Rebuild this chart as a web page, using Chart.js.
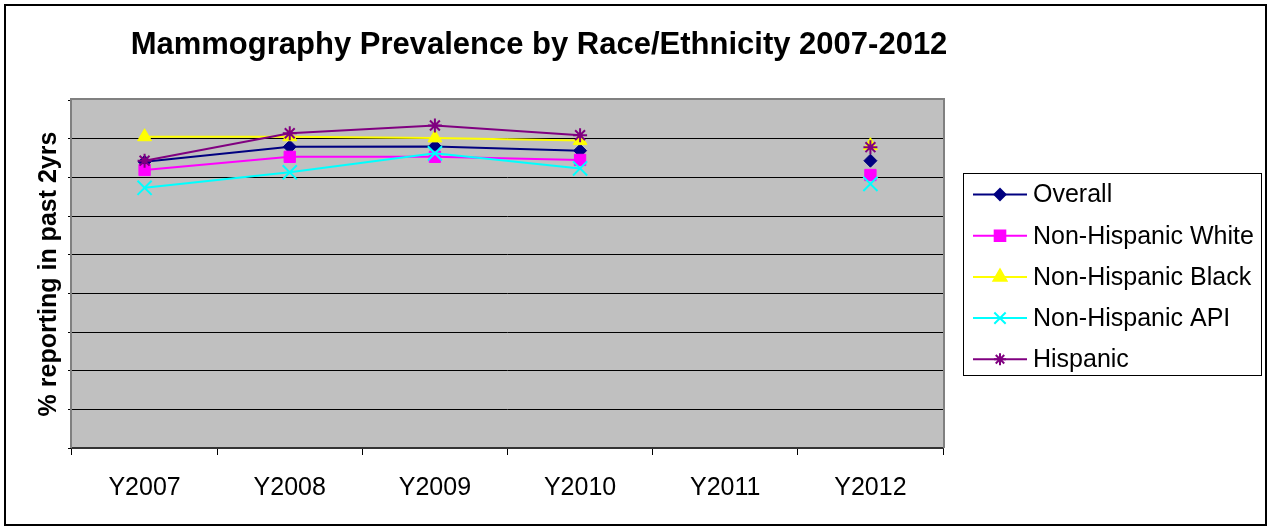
<!DOCTYPE html>
<html>
<head>
<meta charset="utf-8">
<script src="https://cdn.jsdelivr.net/npm/chart.js@4"></script>
<style>
  html, body { margin: 0; padding: 0; background: #fff; }
  #wrap { width: 1270px; height: 527px; }
</style>
</head>
<body>
<div id="wrap"><canvas id="mammoChart" width="1270" height="527"></canvas></div>
<script>
// Survey years (2011 has no estimate)
const years = ['Y2007', 'Y2008', 'Y2009', 'Y2010', 'Y2011', 'Y2012'];

// % of women reporting a mammogram in the past 2 years
const overall = [74.0, 77.9, 78.0, 76.9, null, 74.3];
const nhWhite = [71.9, 75.3, 75.3, 74.5, null, 70.6];
const nhBlack = [80.5, 80.5, 80.2, 79.5, null, 78.2];
const nhApi = [67.3, 71.3, 76.2, 72.3, null, 68.3];
const hispanic = [74.3, 81.4, 83.4, 80.9, null, 77.8];

const yMin = 0;
const yMax = 90;
const yStep = 10;

const FONT = '"Liberation Sans", Arial, sans-serif';

function series(label, data, color, style, radius, width, order) {
    return {
        label: label,
        data: data,
        borderColor: color,
        backgroundColor: color,
        borderWidth: 2,
        pointStyle: style,
        pointRadius: radius,
        pointBorderWidth: width,
        pointBackgroundColor: color,
        pointBorderColor: color,
        spanGaps: false,
        tension: 0,
        order: order
    };
}

// Gray plot background plus the outer frame, title and legend box
const excelLook = {
    id: 'excelLook',
    beforeDraw(chart) {
        const {ctx, chartArea: a} = chart;
        ctx.save();
        ctx.fillStyle = '#C0C0C0';
        ctx.fillRect(a.left, a.top, a.right - a.left, a.bottom - a.top);
        ctx.restore();
    },
    beforeDatasetsDraw(chart) {
        const {ctx, chartArea: a} = chart;
        ctx.save();
        ctx.strokeStyle = '#808080';
        ctx.lineWidth = 2;
        ctx.beginPath();
        ctx.moveTo(a.left - 1, a.bottom);
        ctx.lineTo(a.left - 1, a.top - 1);
        ctx.lineTo(a.right + 1, a.top - 1);
        ctx.lineTo(a.right + 1, a.bottom);
        ctx.stroke();
        ctx.restore();
    },
    afterDraw(chart) {
        const ctx = chart.ctx;
        ctx.save();
        // outer frame
        ctx.strokeStyle = '#000';
        ctx.lineWidth = 2;
        ctx.strokeRect(5, 5, 1261, 520);

        // title
        ctx.fillStyle = '#000';
        ctx.font = 'bold 31px ' + FONT;
        ctx.textAlign = 'center';
        ctx.textBaseline = 'middle';
        ctx.fillText('Mammography Prevalence by Race/Ethnicity 2007-2012', 539, 45);

        // legend
        ctx.lineWidth = 1;
        ctx.strokeStyle = '#000';
        ctx.strokeRect(963.5, 173.5, 298, 202);
        const legendRadius = {rectRot: 5.5, rect: 7.5, triangle: 7.5, crossRot: 8, star: 6};
        chart.data.datasets.forEach((ds, i) => {
            const y = 194.5 + i * 41.2;
            ctx.strokeStyle = ds.borderColor;
            ctx.fillStyle = ds.backgroundColor;
            ctx.lineWidth = 2;
            ctx.beginPath();
            ctx.moveTo(973, y);
            ctx.lineTo(1027, y);
            ctx.stroke();
            Chart.helpers.drawPoint(ctx, {
                pointStyle: ds.pointStyle,
                radius: legendRadius[ds.pointStyle],
                borderWidth: ds.pointBorderWidth,
                rotation: 0
            }, 1000, y);
            ctx.fillStyle = '#000';
            ctx.font = '25px ' + FONT;
            ctx.textAlign = 'left';
            ctx.textBaseline = 'middle';
            ctx.fillText(ds.label, 1033, y + 1);
        });
        ctx.restore();
    }
};

const ctx = document.getElementById('mammoChart').getContext('2d');
const mammoChart = new Chart(ctx, {
    type: 'line',
    data: {
        labels: years,
        datasets: [
            series('Overall', overall, '#000080', 'rectRot', 6.5, 1, 4),
            series('Non-Hispanic White', nhWhite, '#FF00FF', 'rect', 8, 1, 3),
            series('Non-Hispanic Black', nhBlack, '#FFFF00', 'triangle', 8, 1, 2),
            series('Non-Hispanic API', nhApi, '#00FFFF', 'crossRot', 10, 2, 1),
            series('Hispanic', hispanic, '#800080', 'star', 7, 2, 0)
        ]
    },
    plugins: [excelLook],
    options: {
        responsive: false,
        animation: false,
        devicePixelRatio: 1,
        layout: {
            padding: {left: 0, top: 100, right: 327, bottom: 0}
        },
        plugins: {
            legend: {display: false},
            title: {display: false},
            tooltip: {enabled: false}
        },
        scales: {
            x: {
                offset: true,
                afterFit: (scale) => { scale.height = 79; },
                grid: {
                    offset: true,
                    drawOnChartArea: false,
                    drawTicks: true,
                    tickLength: 7,
                    color: '#000'
                },
                border: {display: true, color: '#333', width: 2},
                ticks: {
                    color: '#000',
                    padding: 18,
                    maxRotation: 0,
                    font: {family: FONT, size: 25}
                }
            },
            y: {
                min: yMin,
                max: yMax,
                afterFit: (scale) => { scale.width = 72; },
                grid: {
                    color: (c) => (c.tick.value === yMin || c.tick.value === yMax) ? 'rgba(0,0,0,0)' : '#000',
                    tickColor: '#000',
                    tickLength: 4,
                    lineWidth: 1
                },
                border: {display: false},
                ticks: {
                    display: false,
                    stepSize: yStep
                },
                title: {
                    display: true,
                    text: '% reporting in past 2yrs',
                    color: '#000',
                    padding: {top: 34, bottom: 0},
                    font: {family: FONT, size: 25, weight: 'bold'}
                }
            }
        }
    }
});
</script>
</body>
</html>
